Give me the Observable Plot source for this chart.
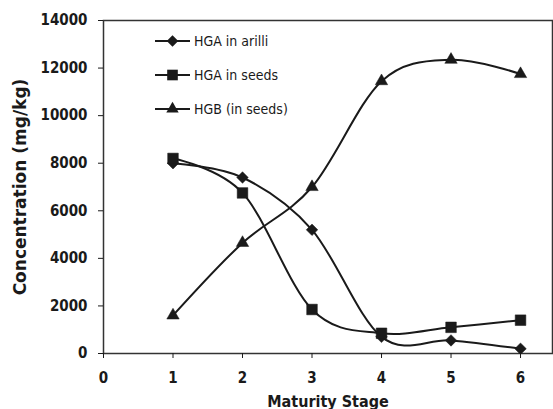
<!DOCTYPE html>
<html><head><meta charset="utf-8">
<script src="https://cdn.jsdelivr.net/npm/d3@7"></script>
<script src="https://cdn.jsdelivr.net/npm/@observablehq/plot@0.6"></script>
<style>
body{margin:0;background:#fff;}
#wrap{position:relative;width:553px;height:409px;font-family:"DejaVu Sans Condensed","DejaVu Sans",sans-serif;}
#wrap svg [aria-label="y-axis tick label"] text, #wrap svg [aria-label="x-axis tick label"] text{font-size:15px;font-weight:bold;}
#wrap svg [aria-label="x-axis label"] text{font-size:16px;font-weight:bold;}
#wrap svg [aria-label="y-axis label"] text{font-size:17px;font-weight:bold;font-family:"DejaVu Sans",sans-serif;}
.leg{position:absolute;left:155px;display:flex;align-items:center;font-size:14px;color:#1a1a1a;}
.leg svg{display:block;margin-right:3px;}
</style></head><body><div id="wrap"></div>
<script>
const stages = [1, 2, 3, 4, 5, 6];
const hgaArilli = [8000, 7400, 5200, 700, 550, 200];
const hgaSeeds = [8200, 6750, 1850, 850, 1100, 1400];
const hgb = [1600, 4650, 7000, 11450, 12350, 11750];
const seriesNames = ["HGA in arilli", "HGA in seeds", "HGB (in seeds)"];
const seriesValues = [hgaArilli, hgaSeeds, hgb];
const symbolNames = ["diamond2", "square", "triangle"];
const symbolR = [5.2, 6.0, 4.6];
const xTicks = [0, 1, 2, 3, 4, 5, 6];
const yTicks = [0, 2000, 4000, 6000, 8000, 10000, 12000, 14000];

const ink = "#1a1a1a";
const rows = [];
seriesNames.forEach((name, i) => stages.forEach((s, j) => rows.push({series: name, stage: s, value: seriesValues[i][j], idx: i})));

const marks = [
  Plot.frame({stroke: "#333", strokeWidth: 1.5}),
  Plot.axisY({ticks: yTicks, tickSize: 5, tickPadding: 11, tickFormat: d => String(d), label: "Concentration (mg/kg)", labelAnchor: "center", labelArrow: "none", labelOffset: 90}),
  Plot.axisX({ticks: xTicks, tickSize: 5, tickPadding: 14, tickFormat: d => String(d), label: "Maturity Stage", labelAnchor: "center", labelArrow: "none", labelOffset: 53}),
  Plot.line(rows, {x: "stage", y: "value", z: "series", curve: "cardinal", stroke: ink, strokeWidth: 2})
];
seriesNames.forEach((name, i) => {
  marks.push(Plot.dot(rows.filter(d => d.idx === i), {x: "stage", y: "value", symbol: () => symbolNames[i], r: symbolR[i], fill: ink, stroke: ink, strokeWidth: 0.5}));
});

const chart = Plot.plot({
  width: 553, height: 409,
  marginLeft: 103, marginRight: 1, marginTop: 20, marginBottom: 56,
  style: {fontFamily: '"DejaVu Sans Condensed","DejaVu Sans",sans-serif', color: ink, background: "#fff"},
  x: {domain: [0, 6.46]},
  y: {domain: [0, 14000]},
  symbol: {type: "identity"},
  marks
});
const wrap = document.getElementById("wrap");
wrap.appendChild(chart);

// legend overlay
const legTops = [41, 75, 109];
seriesNames.forEach((name, i) => {
  const div = document.createElement("div");
  div.className = "leg";
  div.style.top = (legTops[i] - 10) + "px";
  const sym = {diamond2: d3.symbolDiamond2, square: d3.symbolSquare, triangle: d3.symbolTriangle}[symbolNames[i]];
  const path = d3.symbol(sym, Math.PI * symbolR[i] * symbolR[i])();
  div.innerHTML = `<svg width="36" height="20"><line x1="0" x2="35" y1="10" y2="10" stroke="${ink}" stroke-width="2"/><path d="${path}" transform="translate(17.5,10)" fill="${ink}"/></svg><span>${name}</span>`;
  wrap.appendChild(div);
});
</script></body></html>
